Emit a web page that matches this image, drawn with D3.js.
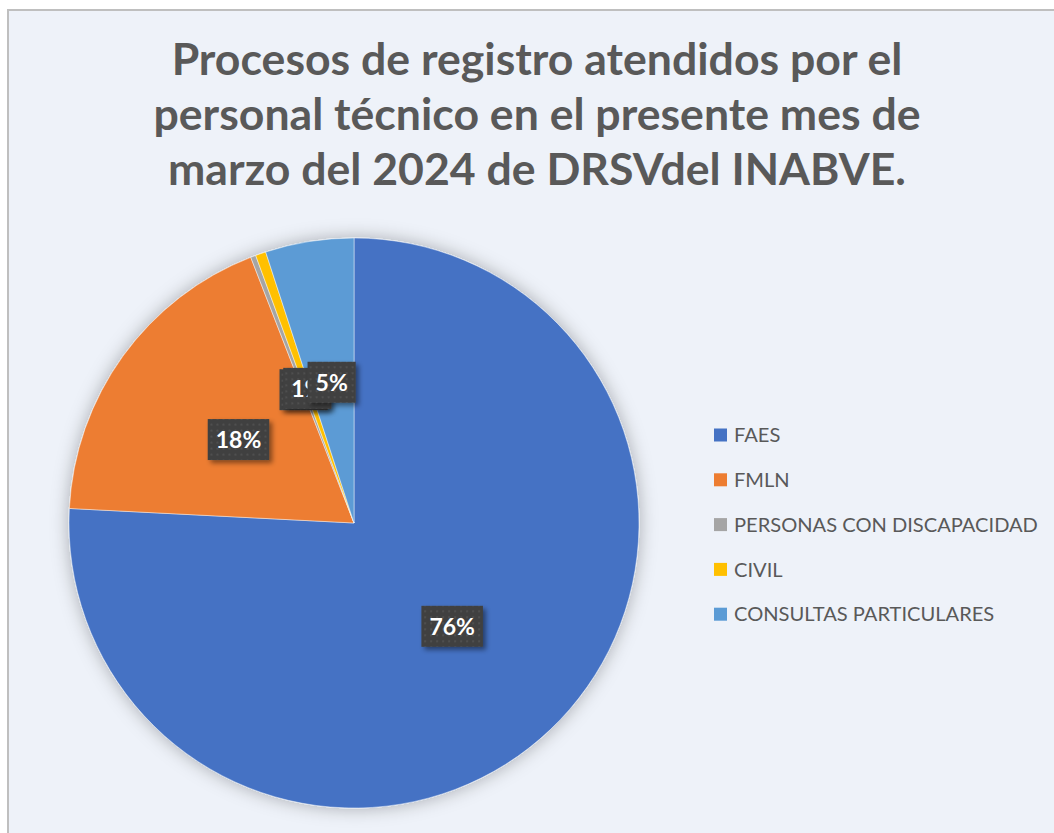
<!DOCTYPE html>
<html lang="es">
    <head>
        <meta charset="utf-8">
        <title>Procesos de registro atendidos - marzo 2024</title>
        <script src="https://d3js.org/d3.v7.min.js"></script>
        <style>
            body { margin: 0; background: #ffffff; }
        </style>
    </head>
    <body>
    <div id="mainDiv"></div>

        <script type="text/javascript">
            const width = 1054
            const height = 833

            // data
            const categories = ['FAES', 'FMLN', 'PERSONAS CON DISCAPACIDAD', 'CIVIL', 'CONSULTAS PARTICULARES']
            const values = [257, 62, 1, 2, 17]
            const colors = ['#4472C4', '#ED7D31', '#A5A5A5', '#FFC000', '#5B9BD5']
            const titleLines = [
                'Procesos de registro atendidos por el',
                'personal técnico en el presente mes de',
                'marzo del 2024 de DRSVdel INABVE.'
            ]

            const dataset = categories.map((c, i) => ({ name: c, value: values[i], color: colors[i] }))
            const total = d3.sum(values)

            const center = { x: 354, y: 523 }
            const radius = 285

            const svg = d3.select('#mainDiv').append('svg')
                .attr('width', width)
                .attr('height', height)
                .style('display', 'block')

            const defs = svg.append('defs')

            const pieShadow = defs.append('filter')
                .attr('id', 'pieShadow')
                .attr('x', '-20%').attr('y', '-20%')
                .attr('width', '140%').attr('height', '140%')
            pieShadow.append('feDropShadow')
                .attr('dx', 0).attr('dy', 0)
                .attr('stdDeviation', 9)
                .attr('flood-color', '#000')
                .attr('flood-opacity', 0.3)

            const labelShadow = defs.append('filter')
                .attr('id', 'labelShadow')
                .attr('x', '-30%').attr('y', '-30%')
                .attr('width', '170%').attr('height', '180%')
            labelShadow.append('feDropShadow')
                .attr('dx', 3).attr('dy', 3)
                .attr('stdDeviation', 2.5)
                .attr('flood-color', '#000')
                .attr('flood-opacity', 0.45)

            const dots = defs.append('pattern')
                .attr('id', 'dots')
                .attr('width', 6).attr('height', 6)
                .attr('patternUnits', 'userSpaceOnUse')
            dots.append('rect').attr('width', 6).attr('height', 6).attr('fill', '#404040')
            dots.append('rect').attr('x', 2).attr('y', 2).attr('width', 2).attr('height', 2)
                .attr('fill', '#4f4f4f')

            // chart area
            svg.append('rect')
                .attr('x', 8).attr('y', 10)
                .attr('width', width).attr('height', height)
                .attr('fill', '#eef2f9')
                .attr('stroke', '#bfbfbf')
                .attr('stroke-width', 2)

            // title, sized to the width of the first line
            const title = svg.append('g')
                .attr('font-family', 'Lato, "Open Sans", sans-serif')
                .attr('font-weight', 'bold')
                .attr('fill', '#595959')
                .attr('text-anchor', 'middle')
            const titleText = title.selectAll('text')
                .data(titleLines)
                .join('text')
                .attr('x', 537)
                .attr('y', (d, i) => 75 + i * 55)
                .attr('font-size', 42)
                .text(d => d)
            const firstW = titleText.node().getComputedTextLength()
            titleText.attr('font-size', 42 * 731 / firstW)

            // pie
            const pie = d3.pie().sort(null).value(d => d.value)
            const arc = d3.arc().innerRadius(0).outerRadius(radius)
            const arcs = pie(dataset)

            const group = svg.append('g')
                .attr('transform', `translate(${center.x}, ${center.y})`)

            group.append('g')
                .attr('filter', 'url(#pieShadow)')
                .selectAll('path')
                .data(arcs)
                .join('path')
                .attr('d', arc)
                .attr('fill', d => d.data.color)
                .attr('stroke', 'rgba(255,255,255,0.45)')
                .attr('stroke-width', 1)

            // data labels at the centroid
            const labels = group.selectAll('g.label')
                .data(arcs)
                .join('g')
                .attr('class', 'label')
                .attr('transform', d => `translate(${arc.centroid(d)})`)

            labels.each(function(d) {
                const g = d3.select(this)
                const txt = g.append('text')
                    .attr('text-anchor', 'middle')
                    .attr('dy', '0.36em')
                    .attr('font-family', 'Lato, "Open Sans", sans-serif')
                    .attr('font-weight', 'bold')
                    .attr('font-size', 23)
                    .attr('fill', '#ffffff')
                    .text(Math.round(d.data.value / total * 100) + '%')
                const w = txt.node().getComputedTextLength()
                g.insert('rect', 'text')
                    .attr('x', -w / 2 - 8)
                    .attr('y', -20.5)
                    .attr('width', w + 16)
                    .attr('height', 41)
                    .attr('fill', 'url(#dots)')
                    .attr('filter', 'url(#labelShadow)')
            })

            // legend
            const legend = svg.append('g')
                .attr('transform', 'translate(714, 435)')
            const rows = legend.selectAll('g')
                .data(dataset)
                .join('g')
                .attr('transform', (d, i) => `translate(0, ${i * 44.8})`)
            rows.append('rect')
                .attr('x', 0).attr('y', -6.5)
                .attr('width', 13).attr('height', 13)
                .attr('fill', d => d.color)
            const legText = rows.append('text')
                .attr('x', 20)
                .attr('dy', '0.36em')
                .attr('font-family', 'Lato, "Open Sans", sans-serif')
                .attr('font-size', 19)
                .attr('fill', '#595959')
                .text(d => d.name)
            const longest = legText.filter((d, i) => i === 2).node().getComputedTextLength()
            legText.attr('font-size', 19 * 304 / longest)
        </script>
    </body>
</html>
